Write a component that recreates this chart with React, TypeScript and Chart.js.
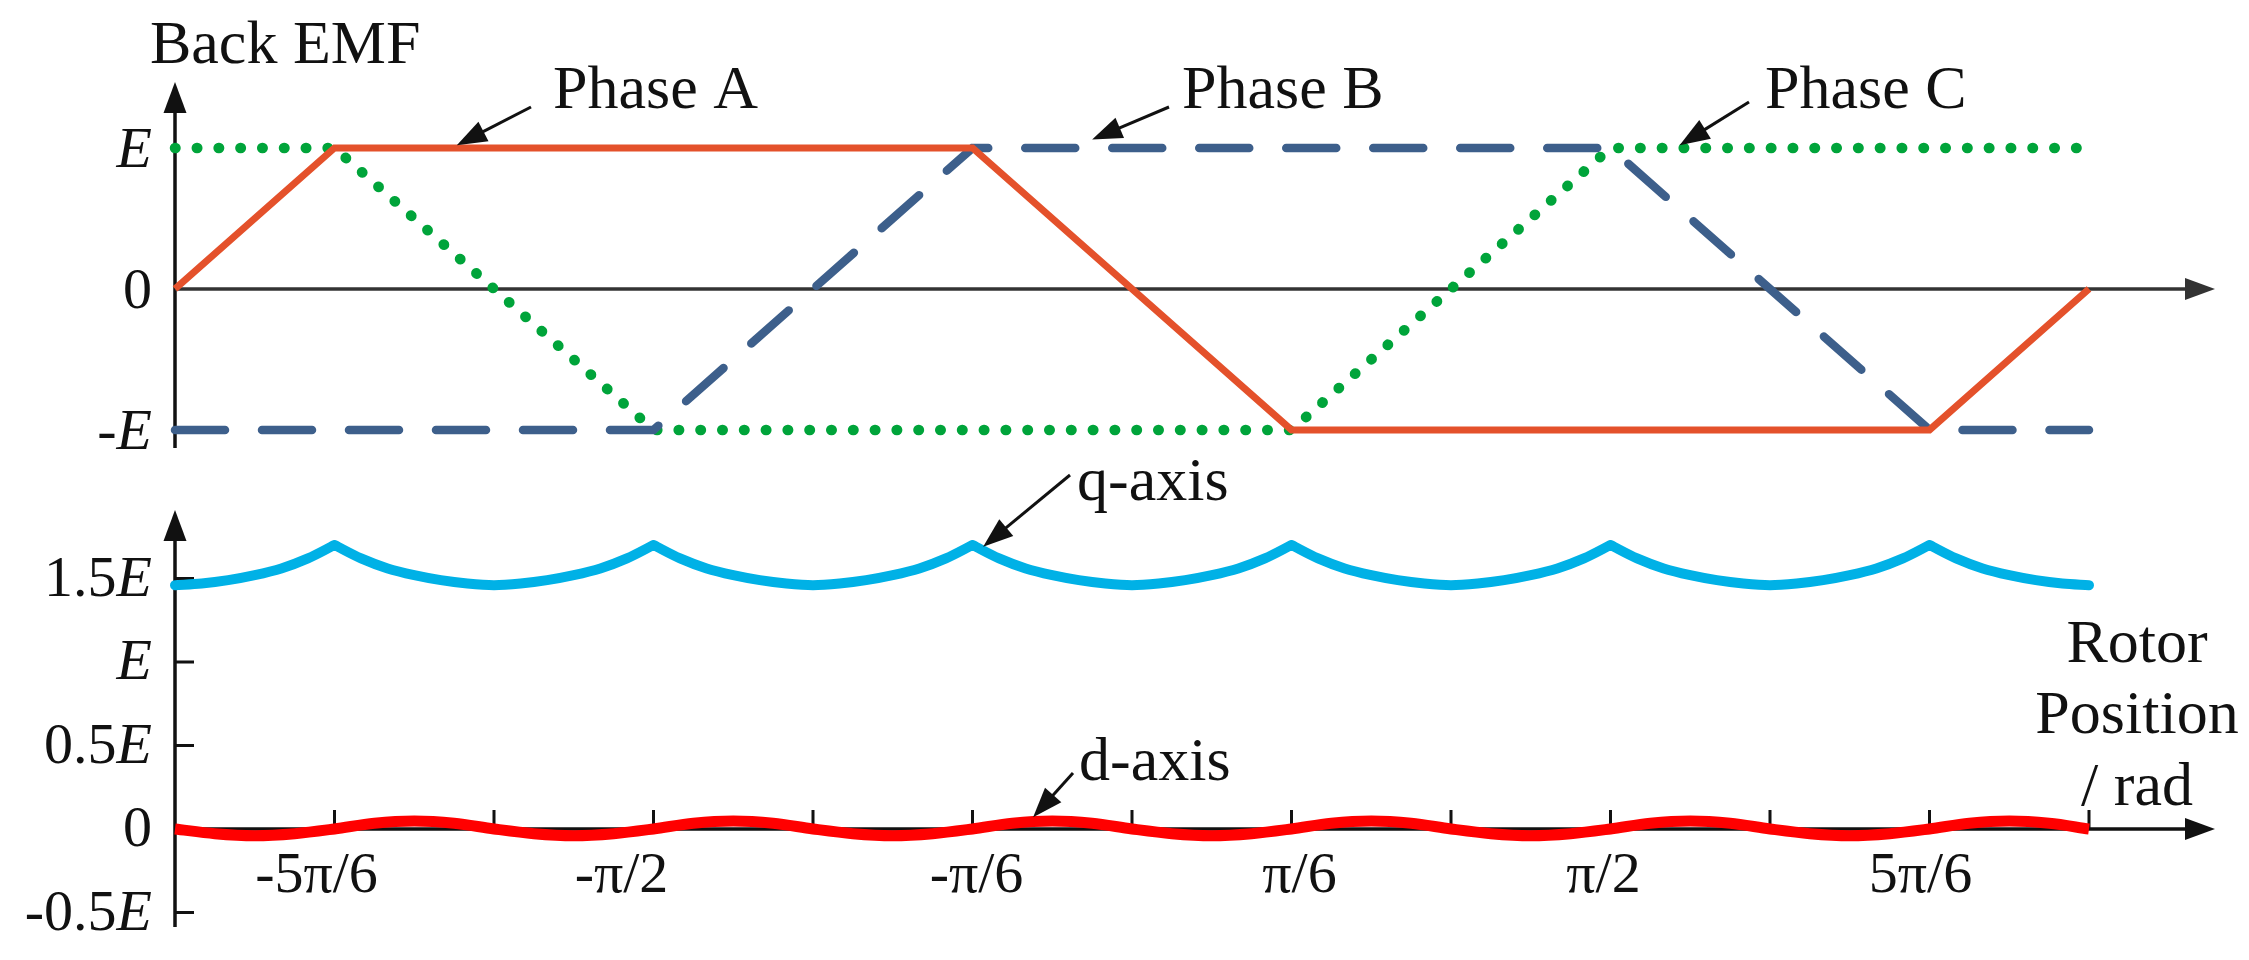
import { useEffect, useRef } from 'react';
import { Chart, registerables } from 'chart.js';

Chart.register(...registerables);

const FONT = '"Liberation Serif", "Times New Roman", serif';

// rotor position in degrees (-180 = -π, 180 = π)
const emfAngles = [-180, -150, -90, -30, 30, 90, 150, 180];
const phaseA = [0, 1, 1, 1, -1, -1, -1, 0];
const phaseB = [-1, -1, -1, 1, 1, 1, -1, -1];
const phaseC = [1, 1, -1, -1, -1, 1, 1, 1];

const qAngles = [
  -180, -175, -170, -165, -160, -155, -150, -145, -140, -135, -130, -125,
  -120, -115, -110, -105, -100, -95, -90, -85, -80, -75, -70, -65,
  -60, -55, -50, -45, -40, -35, -30, -25, -20, -15, -10, -5,
  0, 5, 10, 15, 20, 25, 30, 35, 40, 45, 50, 55,
  60, 65, 70, 75, 80, 85, 90, 95, 100, 105, 110, 115,
  120, 125, 130, 135, 140, 145, 150, 155, 160, 165, 170, 175,
  180,
];
const qAxis = [
  1.46, 1.47, 1.49, 1.52, 1.56, 1.62, 1.7, 1.62, 1.56, 1.52, 1.49, 1.47,
  1.46, 1.47, 1.49, 1.52, 1.56, 1.62, 1.7, 1.62, 1.56, 1.52, 1.49, 1.47,
  1.46, 1.47, 1.49, 1.52, 1.56, 1.62, 1.7, 1.62, 1.56, 1.52, 1.49, 1.47,
  1.46, 1.47, 1.49, 1.52, 1.56, 1.62, 1.7, 1.62, 1.56, 1.52, 1.49, 1.47,
  1.46, 1.47, 1.49, 1.52, 1.56, 1.62, 1.7, 1.62, 1.56, 1.52, 1.49, 1.47,
  1.46, 1.47, 1.49, 1.52, 1.56, 1.62, 1.7, 1.62, 1.56, 1.52, 1.49, 1.47,
  1.46,
];
// the q curve has sharp corners here (commutation points)
const qCusps = [-150, -90, -30, 30, 90, 150];

const dAngles = [
  -180, -172.5, -165, -157.5, -150, -142.5, -135, -127.5,
  -120, -112.5, -105, -97.5, -90, -82.5, -75, -67.5,
  -60, -52.5, -45, -37.5, -30, -22.5, -15, -7.5,
  0, 7.5, 15, 22.5, 30, 37.5, 45, 52.5,
  60, 67.5, 75, 82.5, 90, 97.5, 105, 112.5,
  120, 127.5, 135, 142.5, 150, 157.5, 165, 172.5,
  180,
];
const dAxis = [
  0, -0.028, -0.04, -0.028, 0, 0.034, 0.047, 0.034,
  0, -0.028, -0.04, -0.028, 0, 0.034, 0.047, 0.034,
  0, -0.028, -0.04, -0.028, 0, 0.034, 0.047, 0.034,
  0, -0.028, -0.04, -0.028, 0, 0.034, 0.047, 0.034,
  0, -0.028, -0.04, -0.028, 0, 0.034, 0.047, 0.034,
  0, -0.028, -0.04, -0.028, 0, 0.034, 0.047, 0.034,
  0,
];

const emfTicks = [1, 0, -1];
const emfTickLabels = ['E', '0', '-E'];
const dqTicks = [1.5, 1, 0.5, 0, -0.5];
const dqTickLabels = ['1.5E', 'E', '0.5E', '0', '-0.5E'];
const xLabelAngles = [-150, -90, -30, 30, 90, 150];
const xTickLabels = ['-5π/6', '-π/2', '-π/6', 'π/6', 'π/2', '5π/6'];
const xMinorTicks = [-150, -120, -90, -60, -30, 0, 30, 60, 90, 120, 150, 180];

// hand placement of the x labels in the figure (px, relative to the tick)
const xLabelNudge = [-18, -32, 4, 8, -7, -9];

const W = 2249;
const H = 960;
const AXIS_OVERHANG = 126;

type Note = { text: string; tx: number; ty: number; tail: [number, number]; tip: [number, number] };

const emfNotes: Note[] = [
  { text: 'Phase A', tx: 553, ty: 108, tail: [531, 107], tip: [-127, 1.02] },
  { text: 'Phase B', tx: 1182, ty: 108, tail: [1169, 107], tip: [-7.5, 1.06] },
  { text: 'Phase C', tx: 1765, ty: 108, tail: [1749, 102], tip: [103, 1.02] },
];
const dqNotes: Note[] = [
  { text: 'q-axis', tx: 1077, ty: 500, tail: [1070, 475], tip: [-28, 1.69] },
  { text: 'd-axis', tx: 1079, ty: 780, tail: [1073, 773], tip: [-18.6, 0.07] },
];

function arrowHead(ctx: CanvasRenderingContext2D, x1: number, y1: number, x2: number, y2: number, len: number, half: number) {
  const a = Math.atan2(y2 - y1, x2 - x1);
  const bx = x2 - len * Math.cos(a);
  const by = y2 - len * Math.sin(a);
  ctx.beginPath();
  ctx.moveTo(x2, y2);
  ctx.lineTo(bx + half * Math.sin(a), by - half * Math.cos(a));
  ctx.lineTo(bx - half * Math.sin(a), by + half * Math.cos(a));
  ctx.closePath();
  ctx.fill();
}

function arrow(ctx: CanvasRenderingContext2D, x1: number, y1: number, x2: number, y2: number, len: number, half: number, width: number) {
  const a = Math.atan2(y2 - y1, x2 - x1);
  ctx.lineWidth = width;
  ctx.beginPath();
  ctx.moveTo(x1, y1);
  ctx.lineTo(x2 - (len - 2) * Math.cos(a), y2 - (len - 2) * Math.sin(a));
  ctx.stroke();
  arrowHead(ctx, x1, y1, x2, y2, len, half);
}

// "1.5E" -> "1.5" upright + "E" italic, right aligned
function emfLabel(ctx: CanvasRenderingContext2D, text: string, xRight: number, yMid: number, size: number) {
  const italic = text.endsWith('E');
  const head = italic ? text.slice(0, -1) : text;
  ctx.font = `italic ${size}px ${FONT}`;
  const wE = italic ? ctx.measureText('E').width : 0;
  ctx.font = `${size}px ${FONT}`;
  const wH = ctx.measureText(head).width;
  ctx.textAlign = 'left';
  ctx.textBaseline = 'middle';
  ctx.fillText(head, xRight - wE - wH, yMid);
  if (italic) {
    ctx.font = `italic ${size}px ${FONT}`;
    ctx.fillText('E', xRight - wE, yMid);
  }
}

function drawNotes(chart: any, notes: Note[]) {
  const { ctx, scales } = chart;
  ctx.save();
  ctx.fillStyle = '#111';
  ctx.strokeStyle = '#111';
  ctx.font = `62px ${FONT}`;
  ctx.textAlign = 'left';
  ctx.textBaseline = 'alphabetic';
  notes.forEach((n) => {
    ctx.fillText(n.text, n.tx, n.ty);
    const px = scales.x.getPixelForValue(n.tip[0]);
    const py = scales.y.getPixelForValue(n.tip[1]);
    arrow(ctx, n.tail[0], n.tail[1], px, py, 30, 11, 3);
  });
  ctx.restore();
}

const emfAxesPlugin = {
  id: 'emfAxes',
  beforeDatasetsDraw(chart: any) {
    const { ctx, chartArea, scales } = chart;
    const x0 = scales.x.getPixelForValue(-180);
    const y0 = scales.y.getPixelForValue(0);
    const xEnd = chartArea.right + AXIS_OVERHANG;
    ctx.save();
    ctx.fillStyle = '#111';
    ctx.strokeStyle = '#111';
    arrow(ctx, x0, chartArea.bottom, x0, chartArea.top, 31, 11.5, 3.5);
    ctx.fillStyle = '#333';
    ctx.strokeStyle = '#333';
    arrow(ctx, x0, y0, xEnd, y0, 30, 11, 3.5);
    ctx.restore();
  },
  afterDraw(chart: any) {
    const { ctx, scales } = chart;
    const x0 = scales.x.getPixelForValue(-180);
    ctx.save();
    ctx.fillStyle = '#111';
    emfTicks.forEach((v, i) => emfLabel(ctx, emfTickLabels[i], x0 - 23, scales.y.getPixelForValue(v) + 4, 58));
    ctx.font = `62px ${FONT}`;
    ctx.textAlign = 'left';
    ctx.textBaseline = 'alphabetic';
    ctx.fillText('Back EMF', 150, 63);
    ctx.restore();
    drawNotes(chart, emfNotes);
  },
};

const dqAxesPlugin = {
  id: 'dqAxes',
  beforeDatasetsDraw(chart: any) {
    const { ctx, chartArea, scales } = chart;
    const x0 = scales.x.getPixelForValue(-180);
    const y0 = scales.y.getPixelForValue(0);
    const xEnd = chartArea.right + AXIS_OVERHANG;
    ctx.save();
    ctx.fillStyle = '#111';
    ctx.strokeStyle = '#111';
    arrow(ctx, x0, chartArea.bottom, x0, chartArea.top, 31, 11.5, 3.5);
    arrow(ctx, x0, y0, xEnd, y0, 30, 11, 3.5);
    ctx.lineWidth = 3;
    ctx.beginPath();
    dqTicks.forEach((v) => {
      if (v === 0) return;
      const py = scales.y.getPixelForValue(v);
      ctx.moveTo(x0, py);
      ctx.lineTo(x0 + 19, py);
    });
    xMinorTicks.forEach((a) => {
      const px = scales.x.getPixelForValue(a);
      ctx.moveTo(px, y0);
      ctx.lineTo(px, y0 - 19);
    });
    ctx.stroke();
    ctx.restore();
  },
  afterDraw(chart: any) {
    const { ctx, chartArea, scales } = chart;
    const x0 = scales.x.getPixelForValue(-180);
    const y0 = scales.y.getPixelForValue(0);
    ctx.save();
    ctx.fillStyle = '#111';
    dqTicks.forEach((v, i) => emfLabel(ctx, dqTickLabels[i], x0 - 23, scales.y.getPixelForValue(v) + 2, 58));
    ctx.font = `58px ${FONT}`;
    ctx.textAlign = 'center';
    ctx.textBaseline = 'alphabetic';
    xLabelAngles.forEach((a, i) => {
      ctx.fillText(xTickLabels[i], scales.x.getPixelForValue(a) + xLabelNudge[i], y0 + 63);
    });
    ctx.font = `62px ${FONT}`;
    const cx = chartArea.right + 48;
    ctx.fillText('Rotor', cx, 662);
    ctx.fillText('Position', cx, 733);
    ctx.fillText('/ rad', cx, 805);
    ctx.restore();
    drawNotes(chart, dqNotes);
  },
};

function baseOptions(yMin: number, yMax: number, padTop: number, padBottom: number): any {
  return {
    responsive: false,
    animation: false,
    events: [],
    layout: { padding: { left: 175, right: 160, top: padTop, bottom: padBottom } },
    elements: { point: { radius: 0 } },
    plugins: { legend: { display: false }, tooltip: { enabled: false }, title: { display: false } },
    scales: {
      x: { type: 'linear', min: -180, max: 180, display: false },
      y: { type: 'linear', min: yMin, max: yMax, display: false },
    },
  };
}

const pts = (xs: number[], ys: number[]) => xs.map((x, i) => ({ x, y: ys[i] }));

// break the line at each cusp so the smooth arcs keep their sharp corners
const withCusps = (xs: number[], ys: number[], cusps: number[]) => {
  const out: { x: number; y: number | null }[] = [];
  xs.forEach((x, i) => {
    out.push({ x, y: ys[i] });
    if (cusps.includes(x)) {
      out.push({ x, y: null });
      out.push({ x, y: ys[i] });
    }
  });
  return out;
};

export default function App() {
  const emfRef = useRef<HTMLCanvasElement>(null);
  const dqRef = useRef<HTMLCanvasElement>(null);

  useEffect(() => {
    if (!emfRef.current || !dqRef.current) return;

    const emfChart = new Chart(emfRef.current, {
      type: 'line',
      data: {
        datasets: [
          {
            label: 'Phase A',
            data: pts(emfAngles, phaseA),
            borderColor: '#E4512B',
            borderWidth: 7,
            borderJoinStyle: 'miter',
            clip: false,
          },
          {
            label: 'Phase B',
            data: pts(emfAngles, phaseB),
            borderColor: '#3D5F8B',
            borderWidth: 8.5,
            borderDash: [50, 37],
            borderCapStyle: 'round',
            clip: false,
          },
          {
            label: 'Phase C',
            data: pts(emfAngles, phaseC),
            borderColor: '#00A43A',
            borderWidth: 10.5,
            borderDash: [0.5, 21.3],
            borderCapStyle: 'round',
            borderJoinStyle: 'round',
            clip: false,
          },
        ],
      } as any,
      options: baseOptions(-1.128, 1.468, 82, H - 448),
      plugins: [emfAxesPlugin],
    });

    const dqChart = new Chart(dqRef.current, {
      type: 'line',
      data: {
        datasets: [
          {
            label: 'q-axis',
            data: withCusps(qAngles, qAxis, qCusps),
            borderColor: '#00B1E6',
            borderWidth: 10,
            borderCapStyle: 'round',
            borderJoinStyle: 'round',
            cubicInterpolationMode: 'monotone',
            spanGaps: false,
            clip: false,
          },
          {
            label: 'd-axis',
            data: pts(dAngles, dAxis),
            borderColor: '#FF0000',
            borderWidth: 11,
            cubicInterpolationMode: 'monotone',
            clip: false,
          },
        ],
      } as any,
      options: baseOptions(-0.587, 1.91, 510, H - 927),
      plugins: [dqAxesPlugin],
    });

    return () => {
      emfChart.destroy();
      dqChart.destroy();
    };
  }, []);

  return (
    <div style={{ position: 'absolute', left: 0, top: 0, width: W, height: H, background: '#fff', overflow: 'hidden' }}>
      <canvas ref={dqRef} width={W} height={H} style={{ position: 'absolute', left: 0, top: 0 }} />
      <canvas ref={emfRef} width={W} height={H} style={{ position: 'absolute', left: 0, top: 0 }} />
    </div>
  );
}
